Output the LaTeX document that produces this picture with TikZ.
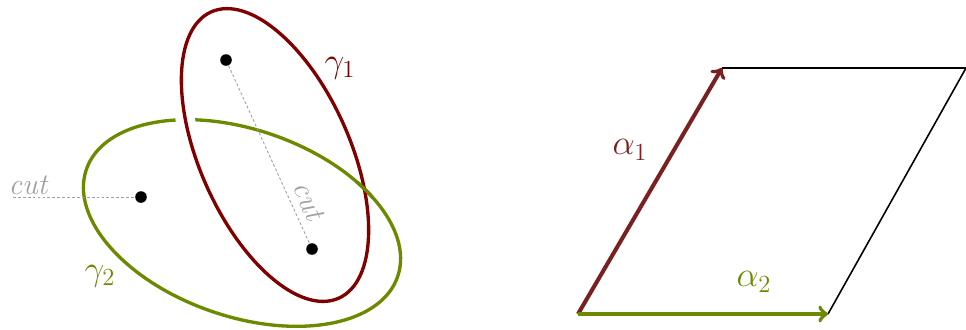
\RequirePackage{fix-cm}
\documentclass[tikz,border=0pt]{standalone}
\usepackage{fontspec}
\definecolor{gammared}{RGB}{128,0,0}
\definecolor{gammagreen}{RGB}{107,138,0}
\definecolor{alphared}{RGB}{122,32,32}
\definecolor{cutgray}{RGB}{160,160,160}
\begin{document}
\begin{tikzpicture}[x=0.02cm,y=0.02cm,
  dot/.style={circle,fill=black,inner sep=0pt,minimum size=6.6pt},
  cutline/.style={cutgray,dashed,dash pattern=on 1.6pt off 1.2pt,line width=0.5pt},
  cutlabel/.style={cutgray,inner sep=1pt,font=\fontsize{17}{20}\selectfont\itshape},
  greeklabel/.style={font=\fontsize{20}{24}\selectfont},
  loopline/.style={line width=1.9pt},
  vector/.style={line width=2.3pt,->}]
\useasboundingbox (0,0) rectangle (966,-329);
\draw[loopline,gammagreen] (242,-223) ellipse [x radius=164.6,y radius=93.4,rotate=-19];
\begin{scope}
\clip (188,-121) circle (17);
\draw[white,line width=11pt] (275,-155) ellipse [x radius=156.7,y radius=75.1,rotate=-66];
\end{scope}
\draw[loopline,gammared] (275,-155) ellipse [x radius=156.7,y radius=75.1,rotate=-66];
\begin{scope}
\clip (363,-192) circle (12);
\draw[loopline,gammagreen] (242,-223) ellipse [x radius=164.6,y radius=93.4,rotate=-19];
\end{scope}
\node[dot] (p1) at (226,-60) {};
\node[dot] (p2) at (312,-249) {};
\node[dot] (q) at (141,-197) {};
\coordinate (cutend) at (13,-197);
\draw[cutline] (cutend) -- (q);
\draw[cutline] (p1) -- node[cutlabel,sloped,above=3pt,pos=0.8] (cutB) {cut} (p2);
\node[cutlabel,anchor=base] (cutA) at (28,-194) {cut};
\node[greeklabel,text=gammared] (g1) at (340,-68) {$\gamma_1$};
\node[greeklabel,text=gammagreen] (g2) at (100,-276) {$\gamma_2$};
\coordinate (A) at (578,-314);
\coordinate (B) at (828,-314);
\coordinate (C) at (722,-68);
\coordinate (D) at (966,-68);
\draw[line width=0.9pt] (C) -- (D) -- (B);
\draw[vector,alphared] (A) -- (C);
\draw[vector,gammagreen] (A) -- (B);
\node[greeklabel,text=alphared] (a1) at (630,-150) {$\alpha_1$};
\node[greeklabel,text=gammagreen] (a2) at (754,-282) {$\alpha_2$};
\end{tikzpicture}
\end{document}
